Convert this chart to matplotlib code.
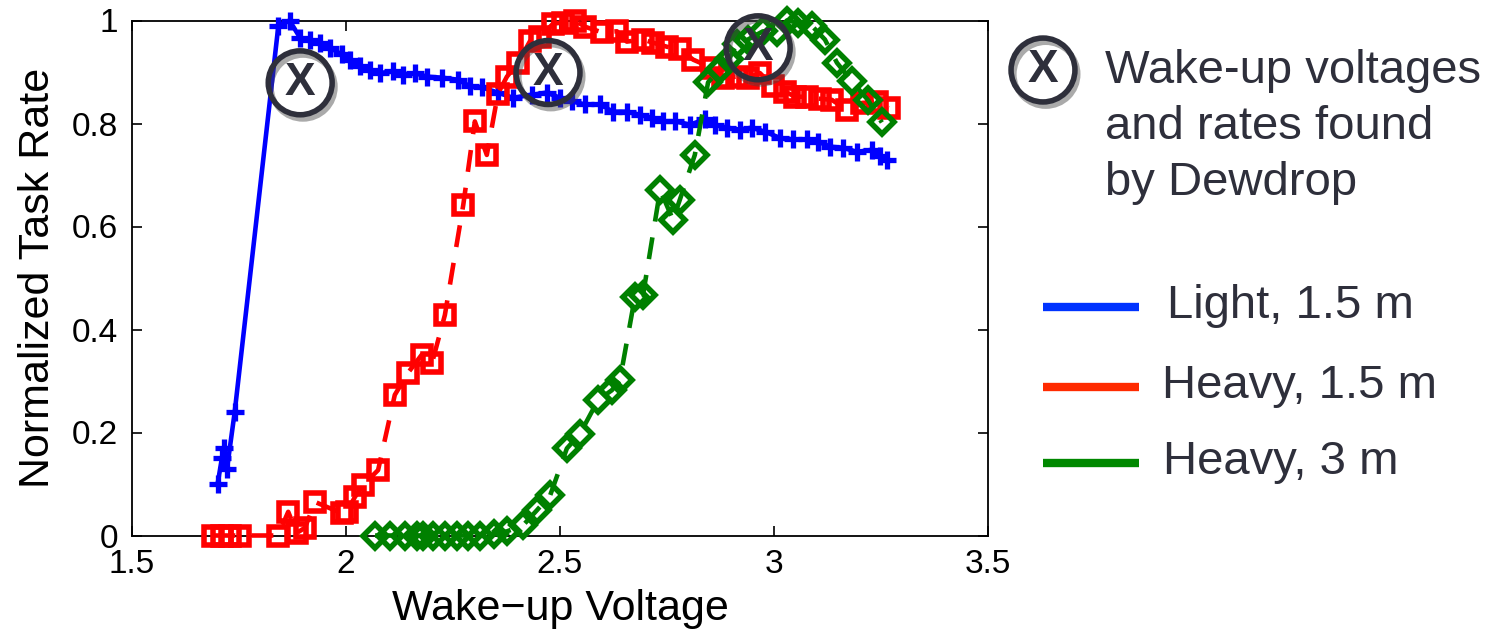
import matplotlib
matplotlib.use('Agg')
import matplotlib.pyplot as plt
import matplotlib.patheffects as pe
from matplotlib.lines import Line2D

# ---------------- data ----------------
light_v = [1.700, 1.710, 1.714, 1.722, 1.740, 1.842, 1.868, 1.893, 1.916, 1.939, 1.963, 1.990,
           2.009, 2.033, 2.056, 2.079, 2.110, 2.133, 2.161, 2.189, 2.224, 2.262, 2.290, 2.318,
           2.355, 2.390, 2.435, 2.469, 2.500, 2.528, 2.558, 2.593, 2.624, 2.656, 2.687, 2.715,
           2.741, 2.769, 2.804, 2.839, 2.862, 2.890, 2.921, 2.948, 2.979, 3.014, 3.044, 3.077,
           3.103, 3.131, 3.161, 3.194, 3.229, 3.248, 3.264]
light_rate = [0.10, 0.15, 0.17, 0.13, 0.24, 0.99, 1.00, 0.966, 0.963, 0.957, 0.947, 0.934,
              0.924, 0.911, 0.904, 0.898, 0.901, 0.895, 0.898, 0.891, 0.889, 0.885, 0.872, 0.870,
              0.860, 0.850, 0.856, 0.860, 0.850, 0.843, 0.837, 0.837, 0.823, 0.823, 0.817, 0.811,
              0.804, 0.804, 0.798, 0.808, 0.798, 0.792, 0.788, 0.792, 0.784, 0.772, 0.769, 0.769,
              0.765, 0.755, 0.753, 0.745, 0.749, 0.736, 0.730]

heavy15_v = [1.690, 1.710, 1.729, 1.752, 1.841, 1.865, 1.885, 1.904, 1.928, 1.991, 2.002, 2.021,
             2.040, 2.075, 2.114, 2.145, 2.177, 2.201, 2.231, 2.274, 2.301, 2.329, 2.355, 2.376,
             2.402, 2.430, 2.453, 2.484, 2.507, 2.535, 2.558, 2.598, 2.633, 2.656, 2.694, 2.717,
             2.750, 2.780, 2.811, 2.855, 2.881, 2.913, 2.939, 2.967, 2.998, 3.026, 3.049, 3.077,
             3.107, 3.135, 3.171, 3.206, 3.241, 3.268]
heavy15_rate = [0, 0, 0, 0, 0, 0.046, 0.005, 0.015, 0.065, 0.043, 0.046, 0.075,
                0.098, 0.127, 0.273, 0.316, 0.351, 0.335, 0.428, 0.642, 0.804, 0.739, 0.858, 0.891,
                0.918, 0.960, 0.967, 0.994, 0.996, 1.0, 0.988, 0.977, 0.979, 0.959, 0.963, 0.957,
                0.949, 0.944, 0.924, 0.908, 0.889, 0.891, 0.889, 0.898, 0.872, 0.862, 0.852, 0.852,
                0.848, 0.846, 0.826, 0.840, 0.842, 0.830]

heavy3_v = [2.068, 2.103, 2.138, 2.166, 2.180, 2.203, 2.231, 2.259, 2.285, 2.313, 2.346, 2.376,
            2.414, 2.446, 2.477, 2.516, 2.547, 2.589, 2.621, 2.640, 2.675, 2.694, 2.734, 2.764,
            2.780, 2.815, 2.846, 2.874, 2.895, 2.913, 2.939, 2.974, 3.007, 3.030, 3.056, 3.088,
            3.119, 3.147, 3.182, 3.220, 3.252]
heavy3_rate = [0, 0, 0, 0, 0, 0, 0, 0, 0, 0, 0.003, 0.008,
               0.020, 0.049, 0.078, 0.169, 0.198, 0.263, 0.282, 0.302, 0.463, 0.467, 0.671, 0.613,
               0.652, 0.739, 0.880, 0.905, 0.925, 0.955, 0.963, 0.979, 0.977, 1.0, 0.996, 0.990,
               0.963, 0.918, 0.882, 0.845, 0.802]

dewdrop_v = [1.893, 2.472, 2.963]
dewdrop_rate = [0.879, 0.899, 0.947]

x_ticks = [1.5, 2, 2.5, 3, 3.5]
x_tick_labels = ['1.5', '2', '2.5', '3', '3.5']
y_ticks = [0, 0.2, 0.4, 0.6, 0.8, 1]
y_tick_labels = ['0', '0.2', '0.4', '0.6', '0.8', '1']
x_label = 'Wake\u2212up Voltage'
y_label = 'Normalized Task Rate'
legend_labels = ['Light, 1.5 m', 'Heavy, 1.5 m', 'Heavy, 3 m']
note_lines = ['Wake-up voltages', 'and rates found', 'by Dewdrop']

# ---------------- style ----------------
plt.rcParams['font.family'] = ['Liberation Sans', 'DejaVu Sans']
W, H = 1501, 632
DARK = '#2e2f3b'
fig = plt.figure(figsize=(W / 100, H / 100), dpi=100)
ax = fig.add_axes([132 / W, 1 - 535.5 / H, (988 - 132) / W, (535.5 - 20.5) / H])

ax.plot(light_v, light_rate, '-', color=(0, 0, 1), lw=3.3, marker='+', ms=13, mew=3.8,
        clip_on=False, zorder=3)
ax.plot(heavy15_v, heavy15_rate, color=(1, 0, 0), lw=3.3, dashes=(4.8, 3.5), marker='s', ms=12.5,
        mfc='none', mew=4.0, clip_on=False, zorder=4)
ax.plot(heavy3_v, heavy3_rate, color=(0, 0.5, 0), lw=3.3, dashes=(4.8, 3.5), marker='D', ms=12,
        mfc='none', mew=4.0, clip_on=False, zorder=5)

shadow = [pe.SimpleLineShadow(offset=(2, -3), shadow_color='#444444', alpha=0.45), pe.Normal()]
ax.plot(dewdrop_v, dewdrop_rate, linestyle='none', marker='o', ms=46, mfc='none', mec=DARK,
        mew=4.0, clip_on=False, zorder=10, path_effects=shadow)
for v, r in zip(dewdrop_v, dewdrop_rate):
    ax.text(v, r, 'X', ha='center', va='center', fontsize=33, fontweight='bold', color=DARK,
            zorder=11)

ax.set_xlim(1.5, 3.5)
ax.set_ylim(0, 1)
ax.set_xticks(x_ticks)
ax.set_xticklabels(x_tick_labels)
ax.set_yticks(y_ticks)
ax.set_yticklabels(y_tick_labels)
ax.tick_params(direction='in', length=7, width=1.2, labelsize=24, top=True, right=True,
               pad=10)
for s in ax.spines.values():
    s.set_linewidth(1.3)
ax.set_xlabel(x_label, fontsize=31, labelpad=6)
ax.set_ylabel(y_label, fontsize=31, labelpad=10)

# ---------------- side legend ----------------
def px(x, y):
    return x / W, 1 - y / H

# circled X symbol
sym = Line2D([px(1043, 70)[0]], [px(1043, 70)[1]], transform=fig.transFigure, linestyle='none',
             marker='o', ms=46, mfc='none', mec=DARK, mew=4.0, path_effects=shadow)
fig.add_artist(sym)
fig.text(*px(1043, 70), 'X', ha='center', va='center', fontsize=33, fontweight='bold', color=DARK)

for i, line in enumerate(note_lines):
    fig.text(*px(1105, 83 + 56 * i), line, ha='left', va='baseline', fontsize=34, color=DARK)

legend_colors = ['#0033ff', '#ff2a00', '#008800']
legend_y = [307, 387, 463]
legend_text_x = [1167, 1162, 1163]
for lab, col, ly, tx in zip(legend_labels, legend_colors, legend_y, legend_text_x):
    x0, y0 = px(1043, ly)
    x1, _ = px(1139, ly)
    fig.add_artist(Line2D([x0, x1], [y0, y0], transform=fig.transFigure, color=col, lw=6,
                          solid_capstyle='butt'))
    fig.text(*px(tx, ly + 11), lab, ha='left', va='baseline', fontsize=34, color=DARK)

fig.savefig('out.png', dpi=100)
